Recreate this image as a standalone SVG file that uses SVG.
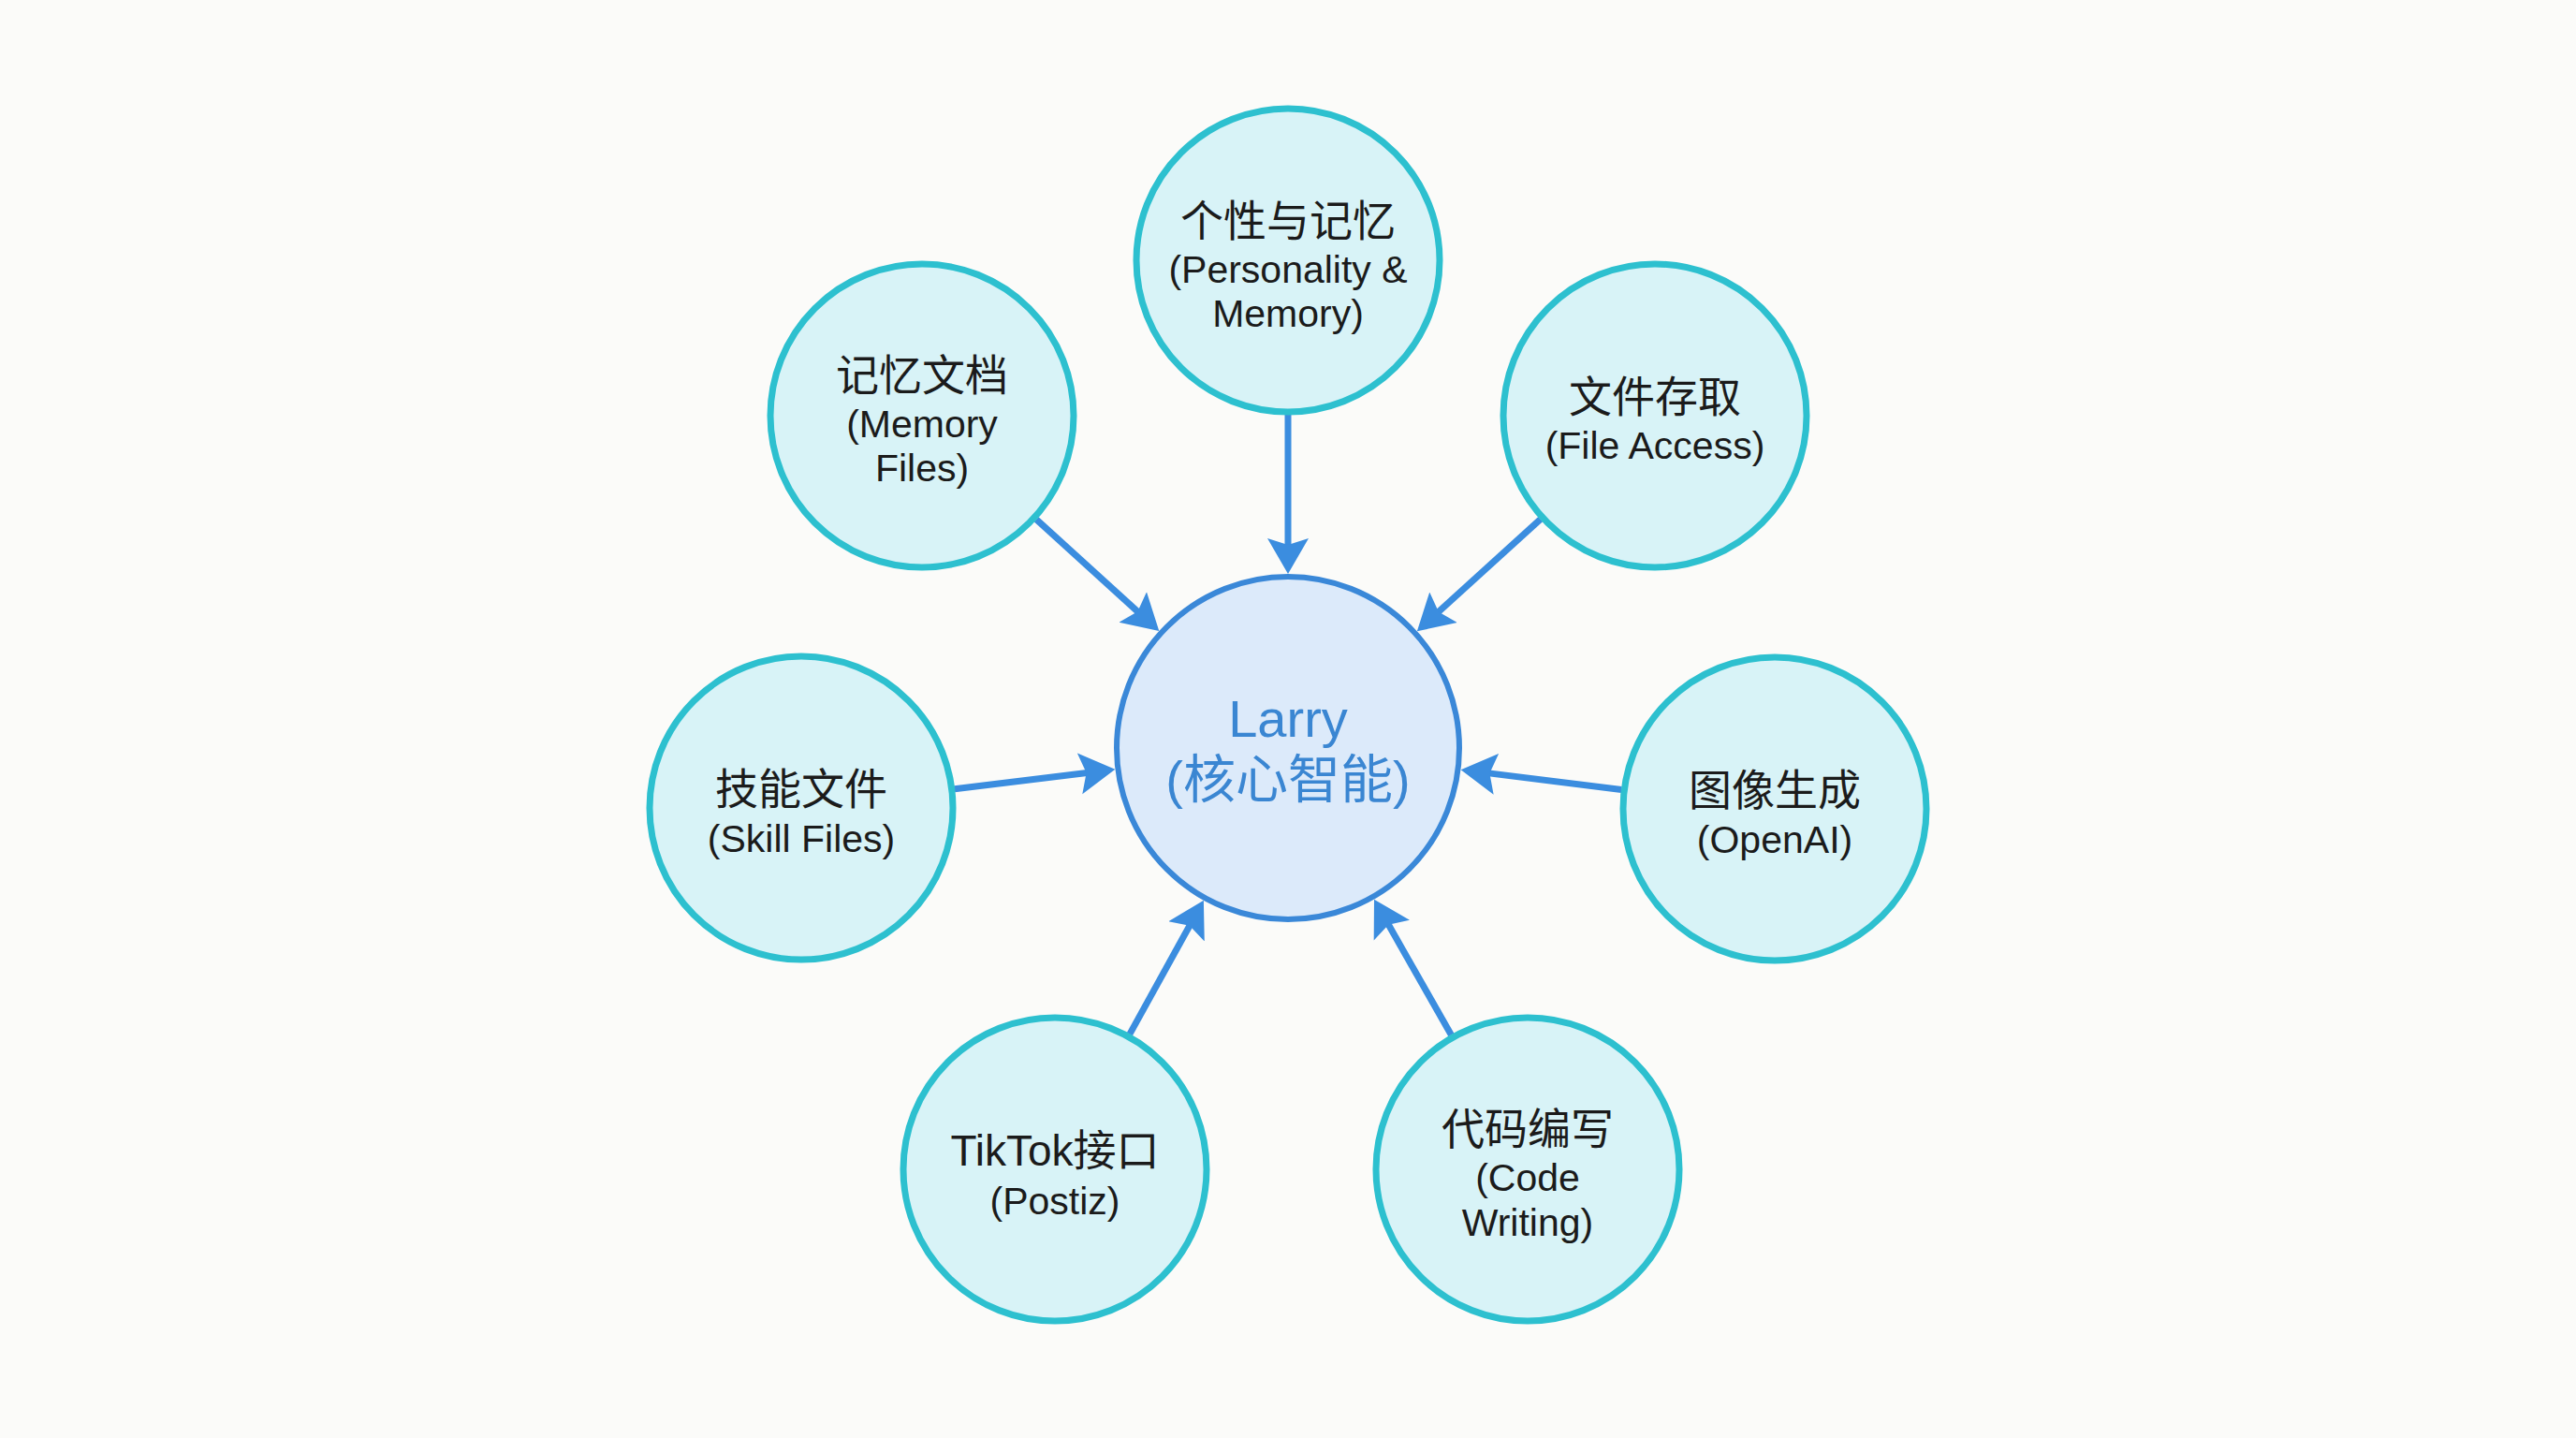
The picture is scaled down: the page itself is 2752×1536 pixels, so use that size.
<svg xmlns="http://www.w3.org/2000/svg" width="2752" height="1536" viewBox="0 0 2752 1536">
<defs>
<style>
.node circle{fill:#d8f3f7;stroke:#2dc0cf;stroke-width:7}
.core circle{fill:#dceafa;stroke:#3a88d8;stroke-width:6}
.t{font-family:"Liberation Sans","Noto Sans CJK SC",sans-serif;fill:#1b1b1b;text-anchor:middle}
.zh{font-size:46px}
.en{font-size:41px}
.ct{font-family:"Liberation Sans","Noto Sans CJK SC",sans-serif;fill:#3a86d2;text-anchor:middle;font-size:56px}
.conn line{stroke:#3b8ddf;stroke-width:7;fill:none;marker-end:url(#ah)}
</style>
<marker id="ah" markerUnits="userSpaceOnUse" viewBox="0 -24 40 48" refX="18" refY="0" markerWidth="40" markerHeight="48" orient="auto">
<path d="M0,-22 L38,0 L0,22 L7,0 Z" fill="#3b8ddf"/>
</marker>
</defs>
<rect x="0" y="0" width="2752" height="1536" fill="#fbfbf9"/>
<g id="connectors" class="conn">
<line x1="1376" y1="443" x2="1376" y2="593"/>
<line x1="1107.2" y1="554.9" x2="1223.5" y2="660.6"/>
<line x1="1645.7" y1="554.7" x2="1528.7" y2="660.8"/>
<line x1="1019.8" y1="842.8" x2="1171.5" y2="824.2"/>
<line x1="1732.3" y1="843.5" x2="1580.5" y2="824.6"/>
<line x1="1206.9" y1="1104.6" x2="1276.2" y2="979.2"/>
<line x1="1550.4" y1="1105.6" x2="1477.9" y2="978.1"/>
</g>
<g id="core" class="core">
<circle cx="1376" cy="799" r="183"/>
<text class="ct" x="1376" y="787">Larry</text>
<text class="ct" x="1376" y="852">(核心智能)</text>
</g>
<g id="personality" class="node">
<circle cx="1376" cy="278" r="162"/>
<text class="t zh" x="1376" y="252">个性与记忆</text>
<text class="t en" x="1376" y="302">(Personality &amp;</text>
<text class="t en" x="1376" y="349">Memory)</text>
</g>
<g id="memory-files" class="node">
<circle cx="985" cy="444" r="162"/>
<text class="t zh" x="985" y="417">记忆文档</text>
<text class="t en" x="985" y="467">(Memory</text>
<text class="t en" x="985" y="514">Files)</text>
</g>
<g id="file-access" class="node">
<circle cx="1768" cy="444" r="162"/>
<text class="t zh" x="1768" y="440">文件存取</text>
<text class="t en" x="1768" y="490">(File Access)</text>
</g>
<g id="skill-files" class="node">
<circle cx="856" cy="863" r="162"/>
<text class="t zh" x="856" y="859">技能文件</text>
<text class="t en" x="856" y="910">(Skill Files)</text>
</g>
<g id="image-gen" class="node">
<circle cx="1896" cy="864" r="162"/>
<text class="t zh" x="1896" y="860">图像生成</text>
<text class="t en" x="1896" y="911">(OpenAI)</text>
</g>
<g id="tiktok" class="node">
<circle cx="1127" cy="1249" r="162"/>
<text class="t zh" x="1127" y="1245">TikTok接口</text>
<text class="t en" x="1127" y="1297">(Postiz)</text>
</g>
<g id="code-writing" class="node">
<circle cx="1632" cy="1249" r="162"/>
<text class="t zh" x="1632" y="1222">代码编写</text>
<text class="t en" x="1632" y="1272">(Code</text>
<text class="t en" x="1632" y="1320">Writing)</text>
</g>
</svg>
